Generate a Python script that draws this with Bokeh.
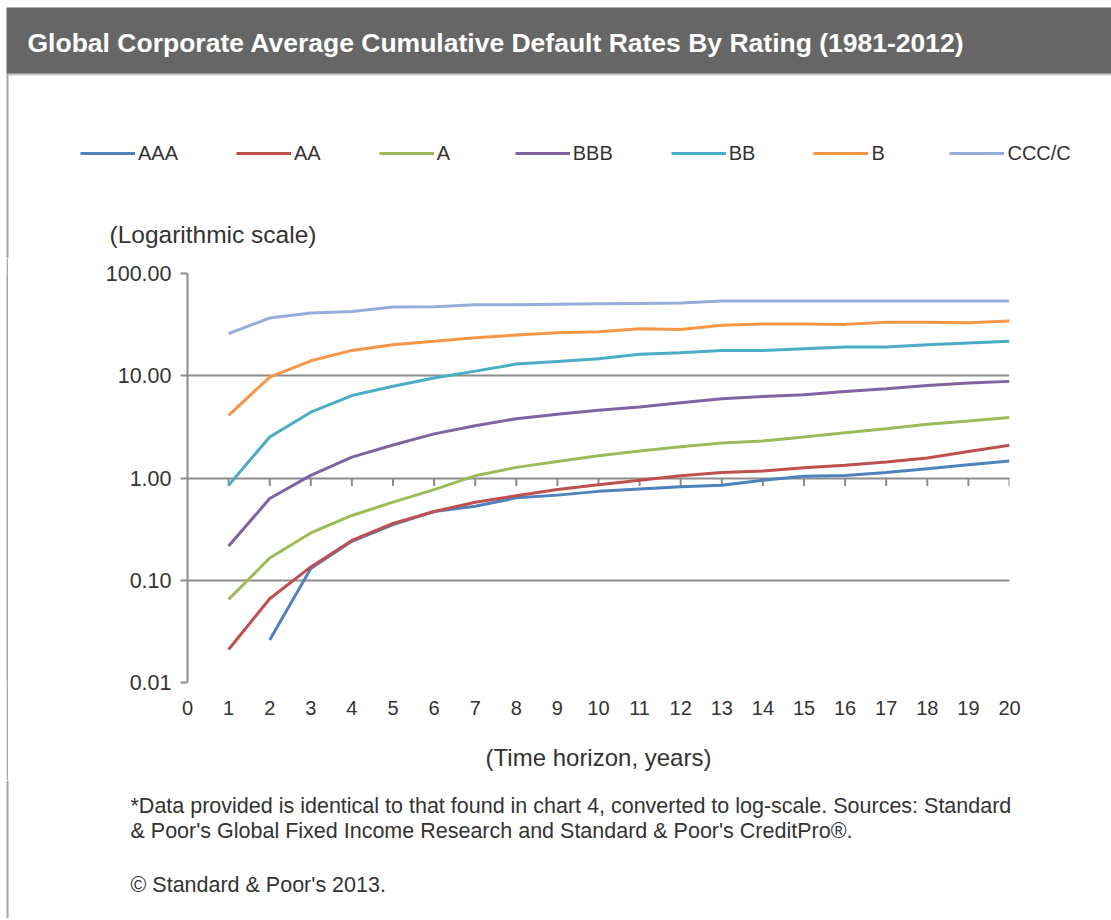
import math
from bokeh.plotting import figure
from bokeh.models import (Range1d, FixedTicker, PrintfTickFormatter,
                          Label, Legend, LegendItem)
from bokeh.layouts import column, row
from bokeh.embed import file_html
from bokeh.resources import INLINE

# ---------------- data ----------------
TITLE = "Global Corporate Average Cumulative Default Rates By Rating (1981-2012)"
years = list(range(1, 21))
x_tick_values = list(range(0, 21))
y_tick_values = [0.01, 0.1, 1, 10, 100]

nan = float("nan")
AAA = [nan, 0.026, 0.13, 0.24, 0.35, 0.47, 0.53, 0.64, 0.68, 0.74,
       0.78, 0.82, 0.85, 0.95, 1.04, 1.06, 1.13, 1.23, 1.35, 1.47]
AA = [0.021, 0.066, 0.135, 0.245, 0.36, 0.47, 0.58, 0.67, 0.77, 0.86,
      0.95, 1.05, 1.13, 1.17, 1.26, 1.33, 1.43, 1.57, 1.82, 2.09]
A = [0.065, 0.165, 0.29, 0.43, 0.58, 0.77, 1.05, 1.27, 1.45, 1.65,
     1.84, 2.02, 2.20, 2.30, 2.52, 2.77, 3.03, 3.35, 3.61, 3.90]
BBB = [0.216, 0.63, 1.06, 1.60, 2.10, 2.70, 3.25, 3.80, 4.20, 4.60,
       4.95, 5.45, 5.96, 6.28, 6.52, 7.03, 7.46, 8.05, 8.48, 8.81]
BB = [0.85, 2.52, 4.40, 6.40, 7.90, 9.50, 11.1, 13.0, 13.8, 14.7,
      16.2, 16.8, 17.7, 17.7, 18.4, 19.1, 19.1, 20.1, 20.9, 21.7]
B = [4.1, 9.7, 14.0, 17.7, 20.1, 21.7, 23.5, 25.0, 26.3, 26.9,
     28.8, 28.4, 31.1, 32.0, 32.0, 31.8, 33.3, 33.3, 33.0, 34.3]
CCC_C = [25.8, 36.7, 41.0, 42.6, 47.0, 47.3, 49.4, 49.4, 50.0, 50.5,
         51.0, 51.5, 53.8, 53.8, 53.8, 53.8, 53.8, 53.8, 53.8, 53.8]

series_names = ["AAA", "AA", "A", "BBB", "BB", "B", "CCC/C"]
series_values = [AAA, AA, A, BBB, BB, B, CCC_C]
series_colors = ["#4F81BD", "#C0504D", "#9BBB59", "#8064A2",
                 "#4BACC6", "#F79646", "#95ADD8"]

FOOT1 = ("*Data provided is identical to that found in chart 4, converted to "
         "log-scale. Sources: Standard")
FOOT2 = "& Poor's Global Fixed Income Research and Standard & Poor's CreditPro\u00ae."
FOOT3 = "\u00a9 Standard & Poor's 2013."

# ---------------- style / layout (pixels) ----------------
FONT = "Liberation Sans"
TXT = "#333333"
GRID = "#8c8c8c"
BAND = "#666666"
EDGE = "#a6a6a6"
W = 1111
HEAD_H = 258             # header: title band, legend, axis note
BAND_LEFT, BAND_TOP, BAND_BOTTOM = 6, 7, 74
EDGE_X, EDGE_W = 6, 2
MAIN_H = 522
FR_LEFT, FR_RIGHT = 187, 102
FR_TOP, FRAME_H = 15, 409
FOOT_H = 138
TICK_LEN = 8


def bare_figure(h, w=W):
    f = figure(width=w, height=h, toolbar_location=None, output_backend="svg",
               x_range=Range1d(0, w), y_range=Range1d(0, h), min_border=0,
               x_axis_location=None, y_axis_location=None)
    f.grid.visible = False
    f.outline_line_color = None
    f.background_fill_color = "white"
    f.border_fill_color = "white"
    return f


def text(f, txt, x, y_from_bottom, size, color=TXT, style="normal"):
    f.add_layout(Label(x=x, y=y_from_bottom, x_units="screen", y_units="screen",
                       text=txt, text_color=color, text_font=FONT,
                       text_font_size=size, text_font_style=style,
                       text_baseline="middle", text_align="left"))


def left_edge(f, h):
    f.quad(left=[EDGE_X], right=[EDGE_X + EDGE_W], bottom=[0], top=[h],
           fill_color=EDGE, line_color=None)


# ---------------- header ----------------
hd = bare_figure(HEAD_H)
hd.quad(left=[BAND_LEFT], right=[W], top=[HEAD_H - BAND_TOP],
        bottom=[HEAD_H - BAND_BOTTOM], fill_color=BAND, line_color=None)
hd.segment(x0=[BAND_LEFT], y0=[HEAD_H - BAND_BOTTOM], x1=[W],
           y1=[HEAD_H - BAND_BOTTOM], line_color="#c8c8c8", line_width=2)
left_edge(hd, HEAD_H - BAND_BOTTOM)
text(hd, TITLE, 27, HEAD_H - 42, "26.5px", "white", "bold")
text(hd, "(Logarithmic scale)", 109, HEAD_H - 234, "24.5px")

# legend keys: hidden copies of the series (same styles)
items = []
for name, vals, col in zip(series_names, series_values, series_colors):
    r = hd.line(years, vals, line_color=col, line_width=3, visible=False)
    items.append(LegendItem(label=name, renderers=[r]))
legend = Legend(items=items, orientation="horizontal",
                location=(80, HEAD_H - 153 - 12),
                glyph_width=55, glyph_height=24, label_standoff=3, spacing=58,
                padding=0, margin=0, border_line_color=None,
                background_fill_alpha=0, inactive_fill_alpha=0,
                label_text_font=FONT, label_text_font_size="20px",
                label_text_color=TXT)
hd.add_layout(legend, "center")

# ---------------- main chart ----------------
edge = figure(width=EDGE_W, height=MAIN_H, toolbar_location=None,
              output_backend="svg", min_border=0, x_axis_location=None,
              y_axis_location=None, margin=(0, 0, 0, EDGE_X))
edge.grid.visible = False
edge.outline_line_color = None
edge.background_fill_color = EDGE
edge.border_fill_color = EDGE

MAIN_W = W - EDGE_X - EDGE_W
p = figure(width=MAIN_W, height=MAIN_H, y_axis_type="log",
           x_range=Range1d(0, 20), y_range=Range1d(0.01, 100),
           toolbar_location=None, output_backend="svg",
           min_border_left=FR_LEFT - EDGE_X - EDGE_W, min_border_right=FR_RIGHT,
           min_border_top=FR_TOP, min_border_bottom=MAIN_H - FR_TOP - FRAME_H)
p.outline_line_color = None
p.background_fill_color = "white"
p.border_fill_color = "white"

# x axis (labels only, at bottom)
p.xaxis.ticker = FixedTicker(ticks=x_tick_values)
p.xaxis.axis_line_color = None
p.xaxis.major_tick_line_color = None
p.xaxis.minor_tick_line_color = None
p.xaxis.major_label_standoff = 12
p.xaxis.major_label_text_font = FONT
p.xaxis.major_label_text_font_size = "20px"
p.xaxis.major_label_text_color = TXT
p.xaxis.axis_label = "(Time horizon, years)"
p.xaxis.axis_label_text_font = FONT
p.xaxis.axis_label_text_font_size = "24px"
p.xaxis.axis_label_text_font_style = "normal"
p.xaxis.axis_label_text_color = TXT
p.xaxis.axis_label_standoff = 26

# y axis
p.yaxis.ticker = FixedTicker(ticks=y_tick_values)
p.yaxis.formatter = PrintfTickFormatter(format="%.2f")
p.yaxis.axis_line_color = GRID
p.yaxis.axis_line_width = 2
p.yaxis.major_tick_line_color = GRID
p.yaxis.major_tick_line_width = 2
p.yaxis.major_tick_out = 7
p.yaxis.major_tick_in = 0
p.yaxis.minor_tick_line_color = None
p.yaxis.major_label_standoff = 9
p.yaxis.major_label_text_font = FONT
p.yaxis.major_label_text_font_size = "21.5px"
p.yaxis.major_label_text_color = TXT

p.xgrid.visible = False
p.ygrid.ticker = FixedTicker(ticks=y_tick_values)
p.ygrid.grid_line_color = GRID
p.ygrid.grid_line_width = 2

# tick marks on the category axis that crosses at 1.00
decades = math.log10(100 / 0.01)
tick_factor = 10 ** (-TICK_LEN * decades / FRAME_H)
p.segment(x0=years, y0=[1] * len(years), x1=years,
          y1=[tick_factor] * len(years), line_color=GRID, line_width=2)

for name, vals, col in zip(series_names, series_values, series_colors):
    p.line(years, vals, line_color=col, line_width=3)

# ---------------- footer ----------------
ft = bare_figure(FOOT_H)
left_edge(ft, FOOT_H)
text(ft, FOOT1, 130, 113, "21.5px")
text(ft, FOOT2, 130, 88, "21.5px")
text(ft, FOOT3, 130, 34, "21.5px")

layout = column(row(hd), row(edge, p, spacing=0), row(ft), spacing=0)
open("out.html", "w").write(file_html(layout, INLINE))
